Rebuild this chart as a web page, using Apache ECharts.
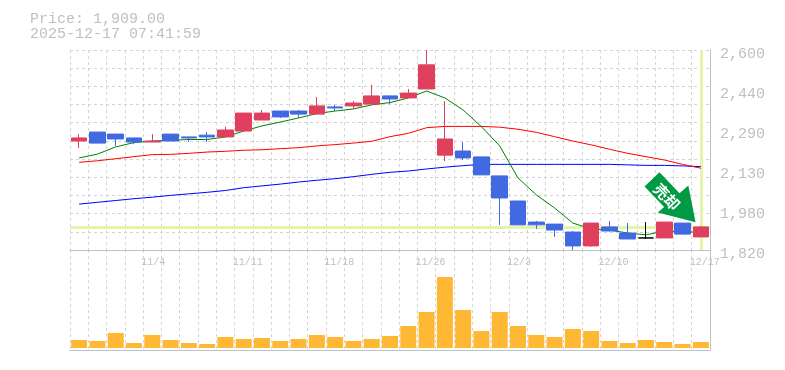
<!DOCTYPE html>
<html>
<head>
<meta charset="utf-8">
<style>
  html, body { margin: 0; background: #fff; }
  #chart { width: 785px; height: 370px; }
</style>
<script src="https://cdn.jsdelivr.net/npm/echarts@6/dist/echarts.min.js"></script>
</head>
<body>
<div id="chart"></div>
<script>
// ========== data ==========
const dates = ['10/29','10/30','10/31','11/3','11/4','11/5','11/6','11/7','11/10','11/11','11/12','11/13','11/14','11/17','11/18','11/19','11/20','11/21','11/25','11/26','11/27','11/28','12/1','12/2','12/3','12/4','12/5','12/8','12/9','12/10','12/11','12/12','12/15','12/16','12/17']
const labelIndexes = [4, 9, 14, 19, 24, 29, 34]

// [open, close, low, high]
const candles = [
  [2245, 2257, 2218, 2272],
  [2280, 2237, 2237, 2280],
  [2272, 2253, 2226, 2272],
  [2257, 2241, 2233, 2257],
  [2241, 2245, 2241, 2272],
  [2272, 2245, 2245, 2272],
  [2261, 2257, 2241, 2261],
  [2268, 2261, 2241, 2280],
  [2261, 2288, 2261, 2300],
  [2284, 2354, 2284, 2354],
  [2327, 2354, 2327, 2366],
  [2362, 2339, 2335, 2362],
  [2362, 2350, 2335, 2366],
  [2350, 2382, 2350, 2417],
  [2378, 2374, 2362, 2386],
  [2382, 2393, 2370, 2401],
  [2389, 2421, 2389, 2464],
  [2421, 2409, 2389, 2421],
  [2413, 2432, 2413, 2448],
  [2448, 2542, 2448, 2600],
  [2190, 2253, 2167, 2401],
  [2206, 2179, 2171, 2241],
  [2183, 2113, 2113, 2183],
  [2109, 2023, 1918, 2109],
  [2011, 1918, 1918, 2011],
  [1929, 1918, 1902, 1933],
  [1921, 1898, 1871, 1921],
  [1890, 1836, 1820, 1894],
  [1836, 1925, 1832, 1925],
  [1910, 1894, 1894, 1933],
  [1886, 1863, 1863, 1925],
  [1867, 1867, 1863, 1929],
  [1867, 1929, 1867, 1929],
  [1925, 1882, 1882, 1925],
  [1871, 1910, 1871, 1914]
]

const ma5 = [2179, 2194, 2222, 2239, 2245, 2248, 2251, 2251, 2261, 2284, 2304, 2319, 2335, 2352, 2362, 2370, 2386, 2395, 2413, 2440, 2413, 2366, 2301, 2226, 2101, 2035, 1984, 1925, 1902, 1898, 1886, 1879, 1894, 1890, 1890]
const ma25 = [2162, 2168, 2176, 2184, 2192, 2193, 2197, 2202, 2205, 2209, 2211, 2215, 2219, 2226, 2231, 2237, 2244, 2262, 2275, 2297, 2302, 2302, 2302, 2299, 2291, 2279, 2262, 2245, 2230, 2213, 2197, 2184, 2171, 2154, 2139]
const ma75 = [1999, 2006, 2013, 2020, 2026, 2033, 2039, 2045, 2052, 2063, 2070, 2077, 2085, 2092, 2098, 2106, 2115, 2123, 2128, 2136, 2143, 2149, 2154, 2154, 2154, 2154, 2154, 2154, 2154, 2154, 2152, 2150, 2150, 2148, 2145]
const volumes = [8, 7, 15, 5, 13, 8, 5, 4, 11, 9, 10, 7, 9, 13, 11, 7, 9, 12, 22, 36, 71, 38, 17, 36, 22, 13, 11, 19, 17, 7, 5, 8, 6, 4, 6]

const lastPrice = 1909
const priceTicks = ['2,600', '2,440', '2,290', '2,130', '1,980', '1,820']

const upColor = '#e0405e'
const downColor = '#4169e1'
const gridColor = '#d4d4d4'
const axisColor = '#c0c0c0'
const textColor = '#c0c0c0'
const monoFont = '"Liberation Mono", monospace'
const highlight = '#e4f5a8'

const chart = echarts.init(document.getElementById('chart'), null, { renderer: 'canvas' })

const dashed = { show: true, lineStyle: { color: gridColor, type: [3, 3], width: 1 } }

chart.setOption({
  animation: false,
  backgroundColor: '#fff',
  title: {
    left: 25,
    top: 7,
    text: 'Price: 1,909.00\n2025-12-17 07:41:59',
    textStyle: { color: textColor, fontFamily: monoFont, fontSize: 15, fontWeight: 'normal', lineHeight: 15 }
  },
  grid: [
    { left: 70, right: 75, top: 50, height: 200 },
    { left: 70, right: 75, top: 250, height: 100 }
  ],
  xAxis: [
    {
      type: 'category', gridIndex: 0, data: dates,
      axisLine: { show: true, lineStyle: { color: axisColor, width: 1 } },
      axisTick: { show: false },
      axisLabel: { show: false },
      splitLine: { ...dashed, interval: 0 }
    },
    {
      type: 'category', gridIndex: 1, data: dates,
      axisLine: { show: true, onZero: false, lineStyle: { color: axisColor, width: 1 } },
      axisTick: { show: false },
      axisLabel: { show: false },
      splitLine: { ...dashed, interval: 0 }
    },
    {
      // date labels sit at the top of the volume panel, left edge near the candle
      type: 'category', gridIndex: 1, data: dates, position: 'top',
      axisLine: { show: false },
      axisTick: { show: false },
      splitLine: { show: false },
      axisLabel: {
        show: true, inside: true, interval: (i) => labelIndexes.includes(i),
        hideOverlap: false, color: textColor, fontFamily: monoFont, fontSize: 10,
        align: 'left', margin: 7, padding: [0, 0, 0, -11]
      }
    }
  ],
  yAxis: [
    {
      type: 'value', gridIndex: 0, position: 'right', min: 1820, max: 2600, interval: 71,
      scale: true,
      axisLine: { show: true, lineStyle: { color: axisColor, width: 1 } },
      axisTick: { show: false },
      axisLabel: { show: false },
      splitLine: dashed
    },
    {
      // tick labels every 40px, value rounded the way the picture prints them
      type: 'value', gridIndex: 0, position: 'right', min: 1820, max: 2600, interval: 156,
      scale: true,
      axisLine: { show: false },
      axisTick: { show: false },
      splitLine: { show: false },
      axisLabel: {
        color: textColor, fontFamily: monoFont, fontSize: 15, margin: 10,
        verticalAlign: 'top', padding: [-3, 0, 0, 0],
        formatter: (v) => priceTicks[Math.round((2600 - v) / 156)]
      }
    },
    {
      type: 'value', gridIndex: 1, position: 'right', min: -2, max: 98,
      axisLine: { show: true, lineStyle: { color: axisColor, width: 1 } },
      axisTick: { show: false },
      axisLabel: { show: false },
      splitLine: { show: false }
    }
  ],
  series: [
    {
      type: 'line', xAxisIndex: 0, yAxisIndex: 0, data: ma75, symbol: 'none', z: 2,
      lineStyle: { color: '#0000ff', width: 1 }
    },
    {
      type: 'line', xAxisIndex: 0, yAxisIndex: 0, data: ma25, symbol: 'none', z: 2,
      lineStyle: { color: '#ff0000', width: 1 }
    },
    {
      type: 'line', xAxisIndex: 0, yAxisIndex: 0, data: ma5, symbol: 'none', z: 2,
      lineStyle: { color: '#008000', width: 1 },
      markLine: {
        silent: true, symbol: 'none', animation: false, z: 1,
        label: { show: false },
        lineStyle: { color: highlight, width: 3, type: 'solid' },
        data: [{ yAxis: lastPrice }, { xAxis: dates[dates.length - 1] }]
      }
    },
    {
      type: 'candlestick', xAxisIndex: 0, yAxisIndex: 0, data: candles, barWidth: 16, z: 3,
      itemStyle: {
        color: upColor, color0: downColor,
        borderColor: upColor, borderColor0: downColor, borderColorDoji: '#000', borderWidth: 1
      },
      markPoint: {
        silent: true, animation: false, z: 6,
        // arrow anchored on the last-but-one candle
        symbol: 'path://M15 0 L0 14.3 L19.7 34.8 L13.3 40.3 L51.3 50 L44 13.3 L35.2 21.1 Z',
        symbolSize: [51, 50],
        symbolOffset: [-12.5, 0],
        itemStyle: { color: '#009944' },
        label: {
          show: true, position: 'inside', formatter: '売却', rotate: -46, offset: [-2.5, 2],
          color: '#fff', fontFamily: '"Noto Sans CJK JP"', fontWeight: 'bold', fontSize: 15
        },
        data: [{ coord: [dates[33], 2026] }]
      }
    },
    {
      type: 'bar', xAxisIndex: 1, yAxisIndex: 2, data: volumes, barWidth: 16,
      itemStyle: { color: '#ffb833' }
    }
  ]
})
</script>
</body>
</html>
